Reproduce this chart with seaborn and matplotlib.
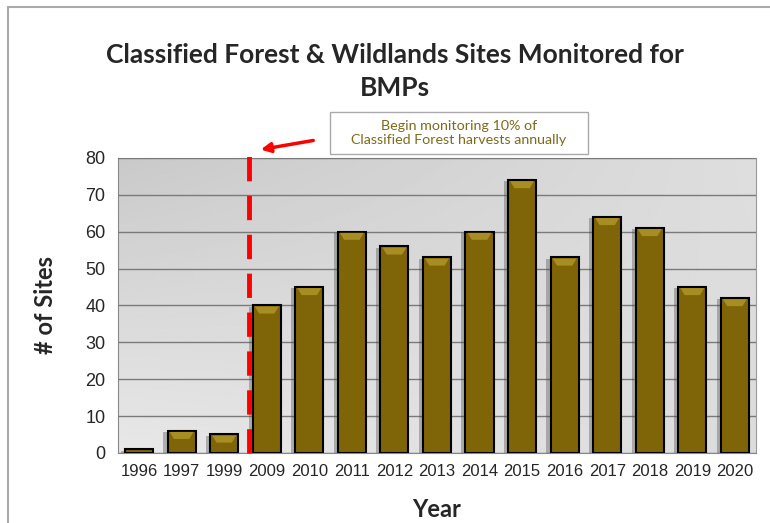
import numpy as np
import pandas as pd
import matplotlib.pyplot as plt
import matplotlib.patheffects as pe
from matplotlib.lines import Line2D
from matplotlib.patches import Rectangle
import seaborn as sns

years = ["1996", "1997", "1999", "2009", "2010", "2011", "2012", "2013",
         "2014", "2015", "2016", "2017", "2018", "2019", "2020"]
sites = [1, 6, 5, 40, 45, 60, 56, 53, 60, 74, 53, 64, 61, 45, 42]
y_ticks = [0, 10, 20, 30, 40, 50, 60, 70, 80]

df = pd.DataFrame({"Year": years, "Sites": sites})

sns.set_style("white")
plt.rcParams["font.family"] = ["Liberation Sans", "DejaVu Sans"]

fig = plt.figure(figsize=(7.7, 5.23), dpi=100)
ax = fig.add_axes([0.153, 0.134, 0.829, 0.564])

# gray gradient background of the plot area
gx = np.linspace(0, 1, 200)
gy = np.linspace(0, 1, 120)
GX, GY = np.meshgrid(gx, gy)
shade = 0.91 - 0.12 * GY + 0.08 * GX * GY - 0.05 * GX * (1 - GY)
ax.imshow(shade, cmap="gray", vmin=0, vmax=1, origin="lower", aspect="auto",
          extent=[-0.5, len(years) - 0.5, 0, 80], zorder=0)

sns.barplot(data=df, x="Year", y="Sites", color="#806508", saturation=1,
            width=0.66, edgecolor="black", linewidth=1.5, ax=ax, zorder=3)
for bar in ax.patches:
    bar.set_path_effects([pe.SimplePatchShadow(offset=(-3, -1), shadow_rgbFace="#444444", alpha=0.35),
                          pe.Normal()])
    # bevel highlight on top of each bar
    x0, w, h = bar.get_x(), bar.get_width(), bar.get_height()
    if h > 2:
        ax.fill([x0 + 0.05, x0 + w - 0.05, x0 + w - 0.15, x0 + 0.15],
                [h - 0.3, h - 0.3, h - 2.2, h - 2.2], color="#a88d22", zorder=4, lw=0)

ax.set_xlim(-0.5, len(years) - 0.5)
ax.set_ylim(0, 80)
ax.set_yticks(y_ticks)
ax.yaxis.grid(True, color="#7a7a7a", linewidth=1)
ax.set_axisbelow(False)
for line in ax.get_ygridlines():
    line.set_zorder(1)

ax.set_xticks(np.arange(len(years)))
ax.set_xticklabels(years)
ax.set_xticks(np.arange(len(years) + 1) - 0.5, minor=True)
ax.tick_params(axis="x", which="major", length=0, labelsize=12, pad=8)
ax.tick_params(axis="x", which="minor", length=5, color="#888888")
ax.tick_params(axis="y", length=5, color="#888888", labelsize=13, pad=4)

for s in ["left", "bottom"]:
    ax.spines[s].set_color("#888888")
for s in ["top", "right"]:
    ax.spines[s].set_color("#999999")

ax.set_xlabel("Year", fontsize=17, fontweight="bold", family=["Lato", "DejaVu Sans"], labelpad=14)
ax.set_ylabel("# of Sites", fontsize=17, fontweight="bold", family=["Lato", "DejaVu Sans"], labelpad=20)

# red dashed line marking the start of 10% monitoring
ax.plot([2.58, 2.58], [0, 81.5], color="#ff0000", lw=3.5, dashes=(5, 3),
        clip_on=False, zorder=5)

fig.text(0.513, 0.863, "Classified Forest & Wildlands Sites Monitored for\nBMPs",
         ha="center", va="center", fontsize=19, fontweight="bold",
         family=["Lato", "DejaVu Sans"], linespacing=1.45)

fig.add_artist(Rectangle((330 / 770, 1 - 154 / 523), 258 / 770, 42 / 523,
                         transform=fig.transFigure, fc="white", ec="#aaaaaa", lw=1))
fig.text(459 / 770, 1 - 133 / 523, "Begin monitoring 10% of\nClassified Forest harvests annually",
         ha="center", va="center", fontsize=10.3, color="#7f6a1a",
         family=["Lato", "DejaVu Sans"], linespacing=1.3)

ax.annotate("", xy=(258 / 770, 1 - 150 / 523), xycoords="figure fraction",
            xytext=(316 / 770, 1 - 140 / 523), textcoords="figure fraction",
            arrowprops=dict(arrowstyle="-|>", color="#ff0000", lw=2.5,
                            mutation_scale=14))

# outer frame lines
fig.add_artist(Line2D([8 / 770, 1], [1 - 7 / 523, 1 - 7 / 523], color="#aaaaaa", lw=1.5))
fig.add_artist(Line2D([8 / 770, 8 / 770], [0, 1 - 7 / 523], color="#aaaaaa", lw=1.5))

plt.savefig("out.png", dpi=100)
